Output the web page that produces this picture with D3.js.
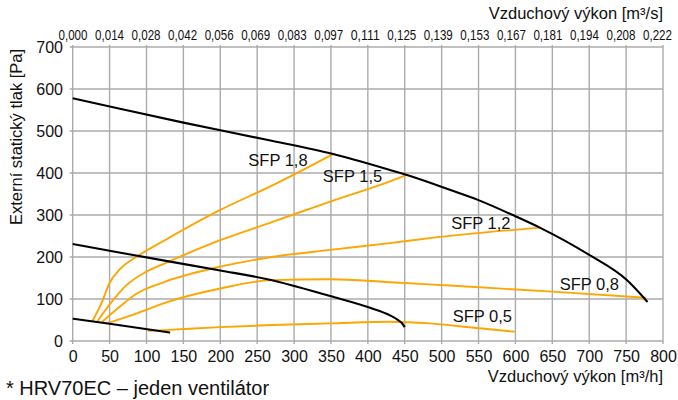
<!DOCTYPE html>
<html>
<head>
<meta charset="utf-8">
<script src="https://cdn.jsdelivr.net/npm/d3@7"></script>
<style>
  html, body { margin: 0; padding: 0; background: #fff; }
  svg { display: block; font-family: "Liberation Sans", Arial, Helvetica, sans-serif; }
</style>
</head>
<body>
<svg id="chart" width="678" height="400"></svg>
<script>
// ---------- DATA ----------
const xTicks = [0,50,100,150,200,250,300,350,400,450,500,550,600,650,700,750,800];
const yTicks = [0,100,200,300,400,500,600,700];
const topTickLabels = ["0,000","0,014","0,028","0,042","0,056","0,069","0,083","0,097","0,111",
                       "0,125","0,139","0,153","0,167","0,181","0,194","0,208","0,222"];

// fan characteristics (black), [m3/h, Pa]
const fanHigh = [[0,578],[64,553],[150,520],[263,479],[353,445],[430,407],[453,395],[511,360],
                 [549,336],[600,297],[633,270],[700,205],[751,145],[779,93]];
const fanMid  = [[0,231],[50,215],[132,189],[200,168],[267,146],[349,107],[403,79],[430,61],
                 [440,51],[446,43],[450,33]];
const fanLow  = [[0,53],[50,41],[132,20]];

// SFP curves (orange)
const sfp18 = [[27,48],[39,90],[50,138],[64,171],[87,201],[125,240],[200,312],[270,370],[353,445]];
const sfp15 = [[33,46],[55,98],[73,133],[100,165],[125,185],[200,240],[270,283],[349,332],[430,380],[452,395]];
const sfp12 = [[39,44],[64,82],[87,113],[125,141],[200,177],[270,200],[349,217],[430,233],[484,245],[633,270]];
const sfp08 = [[46,42],[87,66],[125,91],[200,125],[270,145],[349,147],[430,140],[511,132],[655,117],[777,103]];
const sfp05 = [[102,24],[125,26],[200,33],[270,38],[349,42],[430,46],[484,42],[541,32],[599,22]];

const sfpNames = ["SFP 1,8","SFP 1,5","SFP 1,2","SFP 0,8","SFP 0,5"];
const sfpLabelAt = [[238,417],[339,379],[513,267],[660,121],[515,46]];

const texts = {
  topTitle: "Vzduchový výkon [m³/s]",
  bottomTitle: "Vzduchový výkon [m³/h]",
  yTitle: "Externí statický tlak [Pa]",
  note: "* HRV70EC – jeden ventilátor"
};

// ---------- CHART ----------
const svg = d3.select("#chart");
const x = d3.scaleLinear().domain([0, 800]).range([72.7, 663]);
const y = d3.scaleLinear().domain([0, 700]).range([341, 47]);
const xTop = d3.scalePoint().domain(topTickLabels).range([72.5, 657]);

const gridColor = "#ababab";
const grid = svg.append("g");
grid.selectAll("line.v").data(xTicks).join("line")
  .attr("x1", d => x(d)).attr("x2", d => x(d))
  .attr("y1", y(0) + 3).attr("y2", y(700) - 2)
  .attr("stroke", gridColor).attr("stroke-width", 1.4);
grid.selectAll("line.h").data(yTicks).join("line")
  .attr("x1", x(0) - 3).attr("x2", x(800))
  .attr("y1", d => y(d)).attr("y2", d => y(d))
  .attr("stroke", gridColor).attr("stroke-width", 1.4);

function styleAxis(g, size) {
  g.select(".domain").remove();
  g.selectAll("line").remove();
  g.selectAll("text").attr("font-size", size).attr("fill", "#111")
    .attr("font-family", "'Liberation Sans', Arial, sans-serif");
}

svg.append("g").attr("transform", `translate(${x(0)},0)`)
  .call(d3.axisLeft(y).tickValues(yTicks).tickSize(0).tickPadding(9.7).tickFormat(d3.format("d")))
  .call(g => styleAxis(g, 16));

svg.append("g").attr("transform", `translate(0,${y(0)})`)
  .call(d3.axisBottom(x).tickValues(xTicks).tickSize(0).tickPadding(9.6).tickFormat(d3.format("d")))
  .call(g => styleAxis(g, 16));

svg.append("g").attr("transform", `translate(0,${y(700)})`)
  .call(d3.axisTop(xTop).tickSize(0).tickPadding(7.5))
  .call(g => styleAxis(g, 14.5))
  .call(g => g.selectAll("text")
    .attr("font-family", "'Liberation Sans Narrow', 'Liberation Sans', Arial, sans-serif")
    .attr("textLength", 29).attr("lengthAdjust", "spacingAndGlyphs"));

// curves
const line = d3.line().x(d => x(d[0])).y(d => y(d[1])).curve(d3.curveMonotoneX);
const orange = "#ffa500";
[sfp18, sfp15, sfp12, sfp08, sfp05].forEach(s => {
  svg.append("path").datum(s).attr("d", line)
    .attr("fill", "none").attr("stroke", orange).attr("stroke-width", 1.9);
});
[fanHigh, fanMid, fanLow].forEach(s => {
  svg.append("path").datum(s).attr("d", line)
    .attr("fill", "none").attr("stroke", "#000").attr("stroke-width", 2.1);
});

// SFP labels
svg.append("g").selectAll("text").data(sfpNames).join("text")
  .attr("x", (d, i) => x(sfpLabelAt[i][0]))
  .attr("y", (d, i) => y(sfpLabelAt[i][1]))
  .attr("font-size", 16.5).attr("fill", "#111")
  .text(d => d);

// titles
svg.append("text").attr("x", 663).attr("y", 18.5).attr("text-anchor", "end")
  .attr("font-size", 16.5).attr("fill", "#111").text(texts.topTitle);
svg.append("text").attr("x", 663).attr("y", 382).attr("text-anchor", "end")
  .attr("font-size", 16.5).attr("fill", "#111").text(texts.bottomTitle);
svg.append("text").attr("transform", "translate(22,225) rotate(-90)")
  .attr("font-size", 16.5).attr("fill", "#111").text(texts.yTitle);
svg.append("text").attr("x", 6).attr("y", 395)
  .attr("font-size", 20).attr("fill", "#111").text(texts.note);
</script>
</body>
</html>
